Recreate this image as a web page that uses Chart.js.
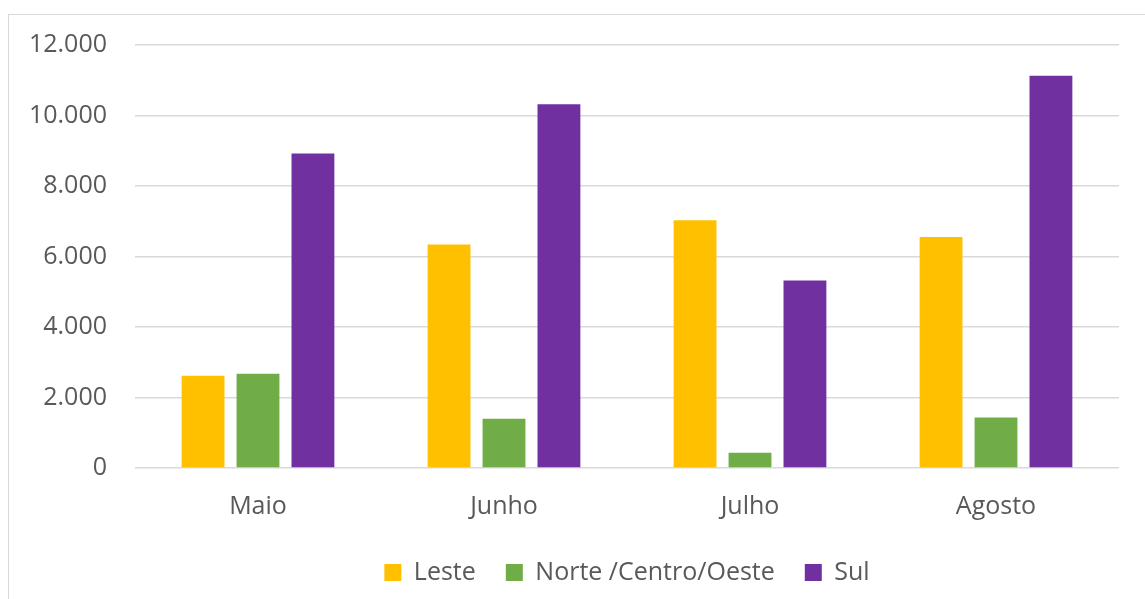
<!DOCTYPE html>
<html lang="pt">
<head>
    <meta charset="UTF-8">
    <title>Regiões por mês</title>
    <script src="https://cdn.jsdelivr.net/npm/chart.js"></script>
    <style>
        body {
            margin: 0;
            background: #ffffff;
            overflow: hidden;
        }
        #frame {
            position: absolute;
            left: 8px;
            top: 14px;
            width: 1160px;
            height: 620px;
            border: 1px solid #d9d9d9;
        }
        #wrap {
            position: absolute;
            left: 0;
            top: 0;
            width: 1145px;
            height: 599px;
        }
    </style>
</head>
<body>
    <div id="frame"></div>
    <div id="wrap"><canvas id="chart" width="1145" height="599"></canvas></div>

    <script>
        // months and values per region
        const meses = ["Maio", "Junho", "Julho", "Agosto"];
        const leste = [2620, 6340, 7030, 6555];
        const norteCentroOeste = [2675, 1395, 435, 1435];
        const sul = [8925, 10320, 5320, 11125];
        const yTicks = [0, 2000, 4000, 6000, 8000, 10000, 12000];

        const fonte = "'Open Sans', 'Liberation Sans', sans-serif";
        const cinza = "#595959";

        function fmt(v) {
            return v.toLocaleString("pt-BR");
        }

        // keep the legend centred under the plot area, not the whole canvas
        const legendUnderPlot = {
            id: "legendUnderPlot",
            beforeDraw(chart) {
                const lg = chart.legend;
                if (!lg) return;
                lg.left = chart.chartArea.left;
                lg.right = chart.chartArea.right;
                lg.width = lg.right - lg.left;
            }
        };

        new Chart(document.getElementById("chart"), {
            type: "bar",
            data: {
                labels: meses,
                datasets: [
                    { label: "Leste", data: leste, backgroundColor: "#FFC000" },
                    { label: "Norte /Centro/Oeste", data: norteCentroOeste, backgroundColor: "#70AD47" },
                    { label: "Sul", data: sul, backgroundColor: "#7030A0" }
                ]
            },
            plugins: [legendUnderPlot],
            options: {
                responsive: false,
                animation: false,
                categoryPercentage: 0.67,
                barPercentage: 0.78,
                layout: { padding: { left: 0, right: 26, top: 45, bottom: 4 } },
                plugins: {
                    tooltip: { enabled: false },
                    legend: {
                        position: "bottom",
                        labels: {
                            boxWidth: 17,
                            boxHeight: 17,
                            padding: 30,
                            color: cinza,
                            font: { family: fonte, size: 25 }
                        }
                    }
                },
                scales: {
                    x: {
                        grid: { display: false, drawTicks: false },
                        border: { display: false },
                        ticks: {
                            color: cinza,
                            padding: 24,
                            font: { family: fonte, size: 25 }
                        },
                        afterFit: (s) => { s.height = 62; }
                    },
                    y: {
                        min: 0,
                        max: 12000,
                        afterBuildTicks: (s) => { s.ticks = yTicks.map(v => ({ value: v })); },
                        grid: { color: "#d9d9d9", lineWidth: 1.5, drawTicks: false },
                        border: { display: false },
                        ticks: {
                            color: cinza,
                            padding: 28,
                            font: { family: fonte, size: 25 },
                            callback: (v) => fmt(v)
                        },
                        afterFit: (s) => { s.width = 135; }
                    }
                }
            }
        });
    </script>
</body>
</html>
